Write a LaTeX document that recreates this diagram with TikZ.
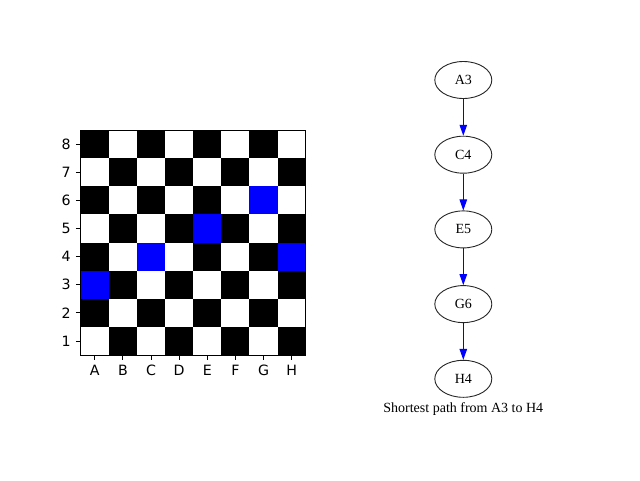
\documentclass[tikz,border=0pt]{standalone}
\usepackage{fontspec}
\newfontfamily\tickfont{DejaVu Sans}
\newfontfamily\graphfont{Liberation Serif}
\usetikzlibrary{shapes.geometric,arrows.meta}
\begin{document}
\begin{tikzpicture}[x=1pt,y=-1pt,
  sqblack/.style={fill=black},
  sqblue/.style={fill=blue},
  ticklbl/.style={font=\tickfont\fontsize{14.2}{16}\selectfont, inner sep=0pt},
  gnode/.style={ellipse, draw=black!85, line width=0.9pt, minimum width=57pt, minimum height=37pt, inner sep=0pt, font=\graphfont\fontsize{14}{16}\selectfont},
  garrow/.style={draw=blue, line width=1pt, -{Triangle[length=11pt,width=7.5pt,color=blue,fill=blue]}}
]
\useasboundingbox (0,0) rectangle (640,480);
\fill[white] (0,0) rectangle (640,480);
\def\xo{80.7}
\def\yo{130}
\def\sq{28.125}
% squares
\foreach \i in {0,...,7}{
  \foreach \r in {1,...,8}{
    \pgfmathtruncatemacro{\myparity}{mod(\i+\r,2)}
    \ifnum\myparity=0
      \fill[sqblack] ({\xo+\i*\sq},{\yo+(8-\r)*\sq}) rectangle ++(\sq,\sq);
    \fi
  }
}
% blue squares: A3, C4, E5, G6, H4
\foreach \i/\r in {0/3,2/4,4/5,6/6,7/4}{
  \fill[sqblue] ({\xo+\i*\sq},{\yo+(8-\r)*\sq}) rectangle ++(\sq,\sq);
}
% frame
\draw[line width=0.8pt] (\xo,\yo) rectangle ({\xo+8*\sq},{\yo+8*\sq});
% left ticks and labels
\foreach \r in {1,...,8}{
  \coordinate (lt\r) at ({\xo-4.9},{\yo+(8-\r+0.5)*\sq});
  \draw[line width=0.8pt] (lt\r) -- ++(4.9,0);
  \node[ticklbl, anchor=east] (rl\r) at ({\xo-9.8},{\yo+(8-\r+0.5)*\sq}) {\r};
}
% bottom ticks and labels
\foreach \l [count=\i from 0] in {A,B,C,D,E,F,G,H}{
  \coordinate (bt\l) at ({\xo+(\i+0.5)*\sq},{\yo+8*\sq});
  \draw[line width=0.8pt] (bt\l) -- ++(0,4.9);
  \node[ticklbl, anchor=north] (cl\l) at ({\xo+(\i+0.5)*\sq},{\yo+8*\sq+9.8}) {\l};
}
% graph
\node[gnode] (A3) at (463.3,80) {A3};
\node[gnode] (C4) at (463.3,154.7) {C4};
\node[gnode] (E5) at (463.3,229.4) {E5};
\node[gnode] (G6) at (463.3,304.1) {G6};
\node[gnode] (H4) at (463.3,378.8) {H4};
\draw[garrow] (A3) -- (C4);
\draw[garrow] (C4) -- (E5);
\draw[garrow] (E5) -- (G6);
\draw[garrow] (G6) -- (H4);
\node[font=\graphfont\fontsize{14}{16}\selectfont, inner sep=0pt] (cap) at (463.3,409) {Shortest path from A3 to H4};
\end{tikzpicture}
\end{document}
